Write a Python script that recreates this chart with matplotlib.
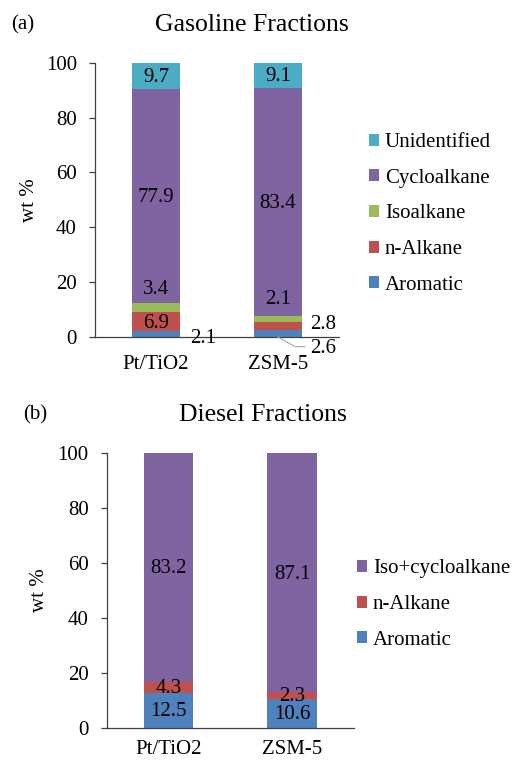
from matplotlib import pyplot as plt
import numpy as np

# wt % composition
categories = ['Pt/TiO2', 'ZSM-5']

gas_names = ['Aromatic', 'n-Alkane', 'Isoalkane', 'Cycloalkane', 'Unidentified']
gas_aromatic = [2.1, 2.6]
gas_nalkane = [6.9, 2.8]
gas_isoalkane = [3.4, 2.1]
gas_cycloalkane = [77.9, 83.4]
gas_unidentified = [9.7, 9.1]

die_names = ['Aromatic', 'n-Alkane', 'Iso+cycloalkane']
die_aromatic = [12.5, 10.6]
die_nalkane = [4.3, 2.3]
die_isocyclo = [83.2, 87.1]

yticks = [0, 20, 40, 60, 80, 100]

colors = {'Aromatic': '#4F81BD', 'n-Alkane': '#C0504D', 'Isoalkane': '#9BBB59',
          'Cycloalkane': '#8064A2', 'Unidentified': '#4BACC6',
          'Iso+cycloalkane': '#8064A2'}

plt.rcParams['font.family'] = ['Liberation Serif', 'DejaVu Serif']
plt.rcParams['font.size'] = 15


def stack(ax, names, series, moved):
    x = np.arange(len(categories))
    bottom = np.zeros(len(categories))
    handles = []
    for si, (name, vals) in enumerate(zip(names, series)):
        vals = np.array(vals)
        h = ax.bar(x, vals, width=0.4, bottom=bottom, color=colors[name], label=name, zorder=2)
        handles.append(h)
        for i, v in enumerate(vals):
            if (si, i) in moved:
                tx, ty, ha = moved[(si, i)]
            else:
                tx, ty, ha = x[i], bottom[i] + v / 2 - 0.5, 'center'
            ax.text(tx, ty, '%.1f' % v, ha=ha, va='center', clip_on=False, zorder=4)
        bottom = bottom + vals
    return handles


def style(ax, xpad):
    ax.set_xlim(-0.5, 1.5)
    ax.set_ylim(0, 100)
    ax.set_yticks(yticks)
    ax.set_xticks(np.arange(len(categories)))
    ax.set_xticklabels(categories)
    for s in ['top', 'right']:
        ax.spines[s].set_visible(False)
    for s in ['left', 'bottom']:
        ax.spines[s].set_color('#404040')
        ax.spines[s].set_linewidth(0.9)
    ax.tick_params(axis='y', direction='out', length=4.5, width=0.9, color='#404040', pad=8.5)
    ax.tick_params(axis='x', length=0, pad=xpad)
    ax.text(-0.27, 0.5, 'wt %', transform=ax.transAxes, rotation=90, ha='center', va='center')


fig = plt.figure(figsize=(5.15, 7.62), dpi=100)

# (a) gasoline
ax1 = fig.add_axes([0.1845, 0.5577, 0.4738, 0.36])
moved = {(0, 0): (0.28, -0.7, 'left'), (0, 1): (1.262, -4.0, 'left'),
         (1, 1): (1.262, 4.4, 'left'),
         (2, 0): (0, 12.4 + 5.0, 'center'), (2, 1): (1, 7.5 + 6.2, 'center')}
h1 = stack(ax1, gas_names, [gas_aromatic, gas_nalkane, gas_isoalkane, gas_cycloalkane, gas_unidentified], moved)
ax1.plot([1.0, 1.14, 1.22], [0.0, -3.5, -3.5], color='#a6a6a6', lw=0.8, clip_on=False, zorder=3)
style(ax1, 13)
fig.legend(handles=h1[::-1], loc='center left', bbox_to_anchor=(0.716, 0.7193), frameon=False,
           borderpad=0, borderaxespad=0, handlelength=0.51, handleheight=0.51,
           handletextpad=0.27, labelspacing=0.8)
fig.text(0.0447, 0.9672, '(a)', ha='center', va='center')
fig.text(0.4883, 0.9672, 'Gasoline Fractions', ha='center', va='center', fontsize=18.5)

# (b) diesel
ax2 = fig.add_axes([0.2072, 0.045, 0.4802, 0.3601])
h2 = stack(ax2, die_names, [die_aromatic, die_nalkane, die_isocyclo], {})
style(ax2, 8.5)
fig.legend(handles=h2[::-1], loc='center left', bbox_to_anchor=(0.6926, 0.2066), frameon=False,
           borderpad=0, borderaxespad=0, handlelength=0.51, handleheight=0.51,
           handletextpad=0.27, labelspacing=0.8)
fig.text(0.0674, 0.4554, '(b)', ha='center', va='center')
fig.text(0.5101, 0.4554, 'Diesel Fractions', ha='center', va='center', fontsize=18.5)

plt.savefig('out.png', dpi=100)
